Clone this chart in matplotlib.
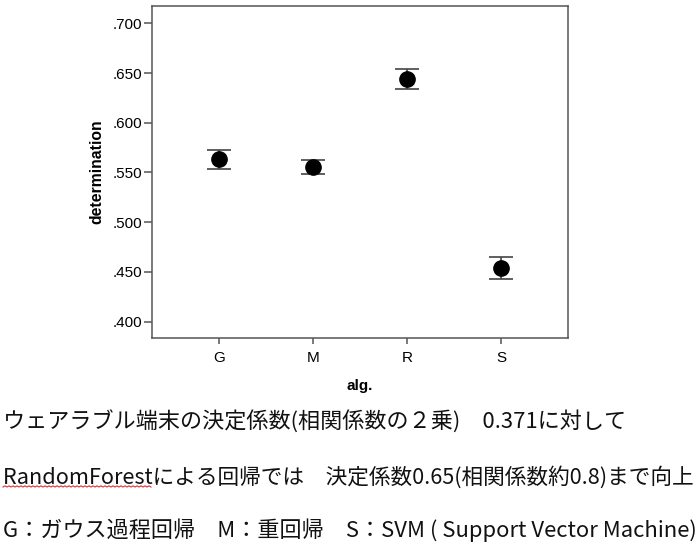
import matplotlib
matplotlib.use("Agg")
import matplotlib.pyplot as plt
from matplotlib.ticker import FuncFormatter

# data
algorithms = ["G", "M", "R", "S"]
means = [0.5632, 0.5557, 0.6443, 0.4541]
err_low = [0.5537, 0.5487, 0.6342, 0.4431]
err_high = [0.5722, 0.5622, 0.6543, 0.4649]
y_ticks = [0.400, 0.450, 0.500, 0.550, 0.600, 0.650, 0.700]

notes = [
    "ウェアラブル端末の決定係数(相関係数の２乗)　0.371に対して",
    "RandomForestによる回帰では　決定係数0.65(相関係数約0.8)まで向上",
    "G：ガウス過程回帰　M：重回帰　S：SVM ( Support Vector Machine)",
]

SPINE = "#555555"
plt.rcParams["font.family"] = ["Liberation Sans", "DejaVu Sans"]

fig = plt.figure(figsize=(7.0, 5.46), dpi=100)
ax = fig.add_axes([0.2167, 0.3815, 0.5947, 0.6081])

x = list(range(len(algorithms)))
yerr = [
    [m - lo for m, lo in zip(means, err_low)],
    [hi - m for m, hi in zip(means, err_high)],
]
ax.errorbar(x, means, yerr=yerr, fmt="o", color="black", markersize=11,
            ecolor="#444444", elinewidth=1.2, capsize=8.5, capthick=1.2,
            zorder=3)

ax.set_xlim(-0.72, 3.71)
ax.set_ylim(0.3839, 0.7177)
ax.set_xticks(x)
ax.set_xticklabels(algorithms)
ax.set_yticks(y_ticks)
ax.yaxis.set_major_formatter(FuncFormatter(lambda v, _: f"{v:.3f}".lstrip("0")))

for spine in ax.spines.values():
    spine.set_color(SPINE)
    spine.set_linewidth(1.1)
ax.tick_params(axis="y", direction="out", length=6, width=1.1, color=SPINE,
               labelsize=11, pad=1)
ax.tick_params(axis="x", direction="out", length=4.5, width=1.1, color=SPINE,
               labelsize=11, pad=5)

ax.set_ylabel("determination", fontsize=11.3, fontweight="bold", labelpad=6)
ax.set_xlabel("alg.", fontsize=11, fontweight="bold", labelpad=10)

jp_font = ["Noto Sans CJK JP", "DejaVu Sans"]
note_sizes = [15.9, 15.6, 15.9]
line_y = [422, 477, 530]
texts = []
for note, size, yy in zip(notes, note_sizes, line_y):
    t = fig.text(3 / 700, 1 - yy / 546, note, fontsize=size, family=jp_font,
                 va="center", ha="left", color="#111111")
    texts.append(t)

# red spell-check squiggle under "RandomForest"
fig.canvas.draw()
renderer = fig.canvas.get_renderer()
probe = fig.text(0, 0, "RandomForest", fontsize=note_sizes[1], family=jp_font)
w_px = probe.get_window_extent(renderer).width
probe.remove()
bb = texts[1].get_window_extent(renderer)
xs, ys = [], []
step = 2.0
n = int(w_px / step) + 1
for i in range(n):
    xs.append((bb.x0 + i * step) / 700)
    ys.append((bb.y0 + 1.5 + (1.0 if i % 2 else -0.2)) / 546)
fig.lines.append(plt.Line2D(xs, ys, transform=fig.transFigure,
                            color="#e03030", linewidth=0.8))

fig.savefig("out.png", dpi=100)
